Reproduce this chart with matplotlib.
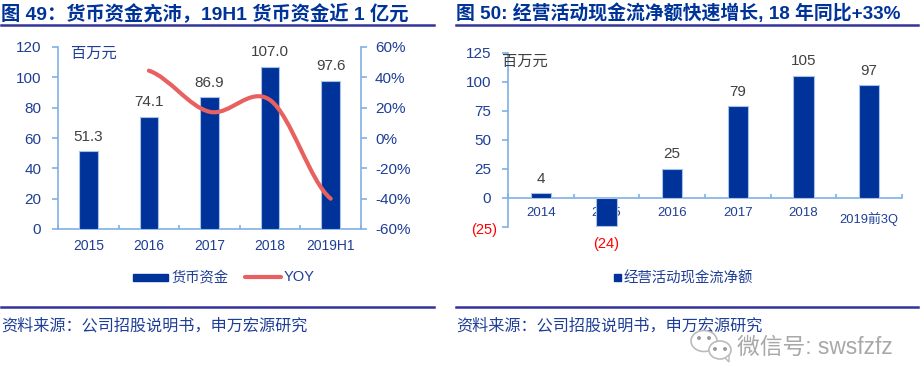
import matplotlib
matplotlib.use('Agg')
import matplotlib.pyplot as plt
from matplotlib.lines import Line2D
from matplotlib.patches import Ellipse, PathPatch, Polygon
from matplotlib.path import Path
from matplotlib.transforms import ScaledTranslation

plt.rcParams['font.family'] = ['Liberation Sans', 'Noto Sans CJK SC']

# left chart data
years_l = ['2015', '2016', '2017', '2018', '2019H1']
cash = [51.3, 74.1, 86.9, 107.0, 97.6]
yoy = [44.4, 17.3, 25.0, -40.0]

# right chart data
years_r = ['2014', '2015', '2016', '2017', '2018', '2019前3Q']
cashflow = [4, -24, 25, 79, 105, 97]
cashflow_labels = ['4', '(24)', '25', '79', '105', '97']

title_l = '图 49：货币资金充沛，19H1 货币资金近 1 亿元'
title_r = '图 50: 经营活动现金流净额快速增长, 18 年同比+33%'
source = '资料来源：公司招股说明书，申万宏源研究'

W, H = 921, 388
BLUE = '#003399'
TXT = '#1F3F96'
AXC = '#7FB2E5'
EDGE = '#A9C1E6'
RED = '#E86060'
GREY = '#404040'
RULE = '#333399'

fig = plt.figure(figsize=(W / 100, H / 100), dpi=100)


def axes_px(x0, y_top, x1, y_bot):
    return fig.add_axes([x0 / W, 1 - y_bot / H, (x1 - x0) / W, (y_bot - y_top) / H])


# overlay in pixel coordinates for titles, rules, watermark
bg = fig.add_axes([0, 0, 1, 1])
bg.set_xlim(0, W)
bg.set_ylim(H, 0)
bg.axis('off')

# ---- left chart ----
ax = axes_px(58, 47, 361, 229)
x = list(range(len(years_l)))
ax.bar(x, cash, width=0.31, color=BLUE, edgecolor=EDGE, linewidth=0.8, zorder=3)
ax.set_xlim(-0.5, 4.5)
ax.set_ylim(0, 120)
ax.set_yticks(range(0, 121, 20))
ax.set_xticks([i - 0.5 for i in range(6)])
ax.set_xticklabels([])
ax.tick_params(axis='x', length=3, width=1.2, color=AXC, direction='in')
ax.tick_params(axis='y', length=4, width=1.2, color=AXC, labelsize=11, labelcolor=TXT, pad=8)
ax.spines['top'].set_visible(False)
for s in ['left', 'bottom', 'right']:
    ax.spines[s].set_color(AXC)
    ax.spines[s].set_linewidth(1.2)
for i, v in enumerate(cash):
    ax.text(i, v + 5, f'{v:.1f}', ha='center', va='bottom', fontsize=11, color=GREY)
    ax.annotate(years_l[i], (i, 0), xytext=(0, -12.5), textcoords='offset points',
                ha='center', va='center', fontsize=10, color=TXT, annotation_clip=False)
ax.text(13 / 303, 0.96 - 0.0, '百万元', transform=ax.transAxes, fontsize=11, color=TXT, va='center')

ax2 = ax.twinx()
ax2.set_ylim(-60, 60)
ax2.set_yticks(range(-60, 61, 20))
ax2.set_yticklabels([f'{v}%' for v in range(-60, 61, 20)])
ax2.tick_params(axis='y', length=4, width=1.2, color=AXC, labelsize=11, labelcolor=TXT, pad=6)
ax2.spines['top'].set_visible(False)
for s in ['left', 'bottom', 'right']:
    ax2.spines[s].set_visible(False)

# smoothed YOY line as bezier through the data points
px = x[1:]
verts = [(px[0], yoy[0])]
codes = [Path.MOVETO]
for i in range(len(yoy) - 1):
    p0 = yoy[max(i - 1, 0)]
    p1 = yoy[i]
    p2 = yoy[i + 1]
    p3 = yoy[min(i + 2, len(yoy) - 1)]
    xm = px[i]
    verts += [(xm + 0.34, p1 + (p2 - p0) / 6), (xm + 0.66, p2 - (p3 - p1) / 6), (xm + 1, p2)]
    codes += [Path.CURVE4] * 3
ax2.add_patch(PathPatch(Path(verts, codes), fill=False, edgecolor=RED, linewidth=3, capstyle='round', zorder=5))

# ---- right chart ----
ar = axes_px(508, 52.7, 902, 227)
xr = list(range(len(years_r)))
ar.bar(xr, cashflow, width=0.31, color=BLUE, edgecolor=EDGE, linewidth=0.8, zorder=3)
ar.set_xlim(-0.5, 5.5)
ar.set_ylim(-25, 125)
ar.set_yticks(range(-25, 126, 25))
ar.set_yticklabels(['(25)'] + [str(v) for v in range(0, 126, 25)])
ar.tick_params(axis='y', length=4, width=1.2, color=AXC, labelsize=11, pad=8)
for lab in ar.get_yticklabels()[1:]:
    lab.set_color(TXT)
first = ar.get_yticklabels()[0]
first.set_color('red')
first.set_fontsize(10.5)
first.set_transform(first.get_transform() + ScaledTranslation(4 / 72, -1 / 72, fig.dpi_scale_trans))
ar.set_xticks([i - 0.5 for i in range(7)])
ar.set_xticklabels([])
ar.tick_params(axis='x', length=3, width=1.2, color=AXC, direction='in')
for s in ['top', 'right']:
    ar.spines[s].set_visible(False)
ar.spines['left'].set_color(AXC)
ar.spines['left'].set_linewidth(1.2)
ar.spines['bottom'].set_position(('data', 0))
ar.spines['bottom'].set_color(AXC)
ar.spines['bottom'].set_linewidth(1.2)
for i, v in enumerate(cashflow):
    if v >= 0:
        ar.text(i, v + 6.5, cashflow_labels[i], ha='center', va='bottom', fontsize=11, color=GREY)
    else:
        ar.text(i, v - 9.5, cashflow_labels[i], ha='center', va='top', fontsize=10.5, color='red',
                clip_on=False)
    if i < 5:
        ar.annotate(years_r[i], (i, 0), xytext=(0, -10.5), textcoords='offset points', ha='center',
                    va='center', fontsize=9.5, color=TXT, annotation_clip=False, zorder=2)
    else:
        ar.annotate(years_r[i], (i, 0), xytext=(0, -15), textcoords='offset points', ha='center',
                    va='center', fontsize=9.3, color=TXT, annotation_clip=False, zorder=2)
ar.text(17 / 394, 0.95, '百万元', transform=ar.transAxes, fontsize=11, color=GREY, va='center',
        ha='center', zorder=6)

# ---- legends ----
bg.add_patch(plt.Rectangle((133, 274), 35, 7, color=BLUE))
bg.text(171, 278, '货币资金', fontsize=10.3, color=TXT, va='center')
bg.add_line(Line2D([245, 281], [277, 277], color=RED, linewidth=3, solid_capstyle='round'))
bg.text(284, 277, 'YOY', fontsize=10.5, color=TXT, va='center')
bg.add_patch(plt.Rectangle((614, 274), 7, 7, color=BLUE))
bg.text(624, 278, '经营活动现金流净额', fontsize=10.4, color=TXT, va='center')

# ---- titles, rules, sources ----
bg.text(1, 13, title_l, fontsize=13.9, fontweight='bold', color=BLUE, va='center')
bg.text(456, 13, title_r, fontsize=13.6, fontweight='bold', color=BLUE, va='center')
for x0, x1 in [(1, 434), (456, 918)]:
    bg.add_line(Line2D([x0, x1], [24.5, 24.5], color=RULE, linewidth=1.8))
    bg.add_line(Line2D([x0, x1], [307, 307], color=RULE, linewidth=1.8))
bg.text(1, 326, source, fontsize=11.6, color=TXT, va='center')
bg.text(456, 326, source, fontsize=11.6, color=TXT, va='center')

# ---- watermark ----
for (cx, cy, w, h) in [(704, 341, 26, 21), (720, 350, 22, 18)]:
    bg.add_patch(Ellipse((cx, cy), w, h, facecolor='white', edgecolor='#BBBBBB', linewidth=1.2, zorder=5))
bg.add_patch(Polygon([(725, 358), (729, 362), (729, 355)], facecolor='white', edgecolor='#BBBBBB', linewidth=1, zorder=5))
for (cx, cy) in [(699, 338), (709, 338), (715, 349), (725, 349)]:
    bg.add_patch(Ellipse((cx, cy), 2.5, 2.5, color='#999999', zorder=6))
bg.text(737, 347, '微信号: swsfzfz', fontsize=16.4, color='#A8A8A8', va='center', zorder=6)

fig.savefig('out.png', dpi=100)
